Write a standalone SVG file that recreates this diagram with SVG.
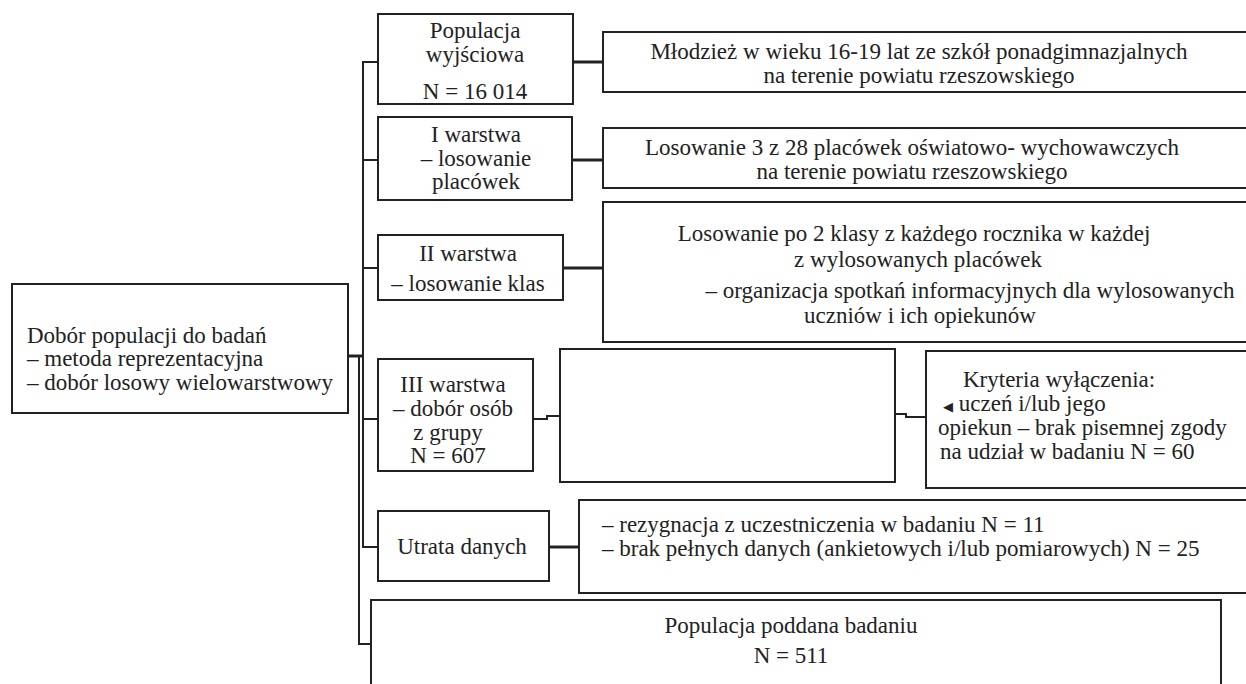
<svg xmlns="http://www.w3.org/2000/svg" width="1246" height="684" viewBox="0 0 1246 684">
<style>
.box{fill:#fff;stroke:#222;stroke-width:2}
.ln{fill:none;stroke:#222;stroke-width:2}
.thk{fill:none;stroke:#222;stroke-width:3}
text{font-family:"Liberation Serif","Times New Roman",serif;font-size:23px;fill:#222}
.c{text-anchor:middle}
</style>
<rect width="1246" height="684" fill="#fff"/>
<g id="connectors">
<polyline class="ln" points="378,62 363,62 363,547 378,547"/>
<line class="ln" x1="363" y1="160" x2="378" y2="160"/>
<line class="ln" x1="363" y1="268" x2="378" y2="268"/>
<line class="ln" x1="363" y1="419" x2="378" y2="419"/>
<polyline class="ln" points="359,356 359,644 371,644"/>
<line class="thk" x1="348" y1="356" x2="363" y2="356"/>
<line class="thk" x1="573" y1="62" x2="603" y2="62"/>
<line class="thk" x1="572" y1="160" x2="603" y2="160"/>
<line class="thk" x1="563" y1="268" x2="603" y2="268"/>
<polyline class="ln" points="533,419 547,419 547,416 560,416"/>
<polyline class="ln" points="895,414 906,414 906,417 926,417"/>
<line class="thk" x1="549" y1="547" x2="579" y2="547"/>
</g>
<g id="root">
<rect class="box" x="12" y="284" width="336" height="129"/>
<text x="27" y="343">Dobór populacji do badań</text>
<text x="27" y="366">– metoda reprezentacyjna</text>
<text x="27" y="390">– dobór losowy wielowarstwowy</text>
</g>
<g id="populacja">
<rect class="box" x="378" y="14" width="195" height="90"/>
<text class="c" x="475" y="38">Populacja</text>
<text class="c" x="475" y="62">wyjściowa</text>
<text class="c" x="475" y="99">N = 16 014</text>
</g>
<g id="mlodziez">
<rect class="box" x="603" y="32" width="660" height="60"/>
<text class="c" x="919" y="59">Młodzież w wieku 16-19 lat ze szkół ponadgimnazjalnych</text>
<text class="c" x="919" y="83">na terenie powiatu rzeszowskiego</text>
</g>
<g id="warstwa1">
<rect class="box" x="378" y="117" width="194" height="83"/>
<text class="c" x="476" y="142">I warstwa</text>
<text class="c" x="476" y="166">– losowanie</text>
<text class="c" x="476" y="189">placówek</text>
</g>
<g id="losowanie1">
<rect class="box" x="603" y="128" width="660" height="60"/>
<text class="c" x="912" y="155">Losowanie 3 z 28 placówek oświatowo- wychowawczych</text>
<text class="c" x="912" y="179">na terenie powiatu rzeszowskiego</text>
</g>
<g id="warstwa2">
<rect class="box" x="378" y="235" width="185" height="65"/>
<text class="c" x="468" y="261">II warstwa</text>
<text class="c" x="468" y="291">– losowanie klas</text>
</g>
<g id="losowanie2">
<rect class="box" x="603" y="202" width="660" height="140"/>
<text class="c" x="914" y="241">Losowanie po 2 klasy z każdego rocznika w każdej</text>
<text class="c" x="918" y="267">z wylosowanych placówek</text>
<text class="c" x="970" y="298">– organizacja spotkań informacyjnych dla wylosowanych</text>
<text class="c" x="920" y="323">uczniów i ich opiekunów</text>
</g>
<g id="warstwa3">
<rect class="box" x="378" y="359" width="155" height="112"/>
<text class="c" x="453" y="392">III warstwa</text>
<text class="c" x="453" y="416">– dobór osób</text>
<text class="c" x="448" y="440">z grupy</text>
<text class="c" x="448" y="463">N = 607</text>
</g>
<g id="empty">
<rect class="box" x="560" y="349" width="335" height="133"/>
</g>
<g id="kryteria">
<rect class="box" x="926" y="351" width="340" height="137"/>
<text x="963" y="387">Kryteria wyłączenia:</text>
<text x="943" y="411"><tspan style="font-family:'DejaVu Sans',sans-serif;font-size:13px">◀</tspan> uczeń i/lub jego</text>
<text x="938" y="435">opiekun – brak pisemnej zgody</text>
<text x="940" y="459">na udział w badaniu N = 60</text>
</g>
<g id="utrata">
<rect class="box" x="378" y="511" width="171" height="70"/>
<text class="c" x="462" y="554">Utrata danych</text>
</g>
<g id="utrata-info">
<rect class="box" x="579" y="500" width="690" height="93"/>
<text x="602" y="532">– rezygnacja z uczestniczenia w badaniu N = 11</text>
<text x="602" y="556">– brak pełnych danych (ankietowych i/lub pomiarowych)  N = 25</text>
</g>
<g id="wynik">
<rect class="box" x="371" y="600" width="850" height="100"/>
<text class="c" x="791" y="633">Populacja poddana badaniu</text>
<text class="c" x="791" y="663">N = 511</text>
</g>
</svg>
